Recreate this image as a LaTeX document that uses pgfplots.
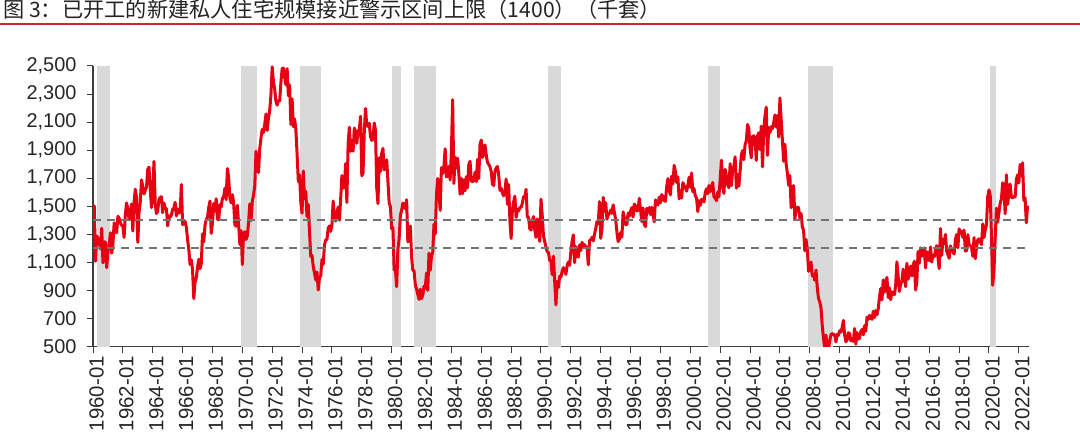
\documentclass[border=0pt]{standalone}
\usepackage{pgfplots}
\pgfplotsset{compat=1.18}
\usepackage{pgfplotstable}
\usepackage{fontspec}
\setmainfont{Liberation Sans}
\newfontfamily\cjk{Noto Sans CJK SC}
\definecolor{linered}{RGB}{230,0,18}
\definecolor{titlered}{RGB}{205,40,50}
\definecolor{bandgray}{RGB}{217,217,217}
\definecolor{dashgray}{RGB}{115,115,115}
\definecolor{axisgray}{RGB}{60,60,60}
\definecolor{titletext}{RGB}{35,35,35}
\pgfplotstableread[row sep=\\]{
v\\
1460\\1503\\1109\\1289\\1271\\1247\\1197\\1344\\1097\\1246\\1246\\1063\\
1183\\1226\\1312\\1166\\1228\\1382\\1335\\1312\\1429\\1415\\1385\\1365\\
1361\\1278\\1443\\1524\\1483\\1404\\1450\\1517\\1324\\1533\\1622\\1564\\
1244\\1456\\1534\\1689\\1641\\1588\\1614\\1639\\1763\\1779\\1622\\1491\\
1603\\1820\\1517\\1448\\1467\\1550\\1562\\1569\\1455\\1524\\1486\\1484\\
1361\\1433\\1423\\1438\\1478\\1488\\1529\\1432\\1482\\1452\\1460\\1656\\
1370\\1378\\1394\\1352\\1265\\1194\\1086\\1119\\1046\\843\\961\\990\\
1067\\1123\\1056\\1091\\1304\\1248\\1364\\1407\\1421\\1491\\1538\\1308\\
1380\\1520\\1466\\1554\\1408\\1405\\1512\\1495\\1556\\1569\\1630\\1548\\
1769\\1705\\1561\\1524\\1583\\1528\\1368\\1358\\1507\\1381\\1229\\1327\\
1085\\1305\\1319\\1264\\1290\\1385\\1517\\1399\\1534\\1580\\1647\\1893\\
1828\\1741\\1910\\1986\\2049\\2026\\2083\\2158\\2041\\2128\\2182\\2295\\
2494\\2390\\2334\\2249\\2221\\2254\\2252\\2382\\2481\\2485\\2421\\2366\\
2481\\2289\\2365\\2084\\2266\\2067\\2123\\2051\\1874\\1677\\1724\\1526\\
1451\\1752\\1555\\1607\\1426\\1513\\1316\\1142\\1150\\1070\\1026\\975\\
1032\\904\\993\\1005\\1121\\1087\\1226\\1260\\1264\\1344\\1360\\1321\\
1367\\1538\\1421\\1395\\1459\\1495\\1401\\1550\\1720\\1629\\1641\\1804\\
1527\\1943\\2063\\1892\\1971\\1893\\2058\\2020\\1949\\2042\\2042\\2142\\
1718\\1738\\2032\\2197\\2075\\2070\\2092\\1996\\1970\\1981\\2094\\2044\\
1630\\1520\\1847\\1748\\1876\\1913\\1760\\1778\\1832\\1681\\1524\\1498\\
1341\\1350\\1047\\1051\\927\\1196\\1269\\1436\\1471\\1523\\1510\\1482\\
1547\\1246\\1306\\1360\\1140\\1045\\1041\\940\\911\\873\\837\\910\\
843\\866\\931\\917\\1025\\902\\1166\\1046\\1144\\1173\\1372\\1303\\
1586\\1699\\1606\\1472\\1776\\1733\\1785\\1910\\1710\\1715\\1785\\1688\\
1897\\2260\\1663\\1851\\1774\\1843\\1732\\1586\\1698\\1590\\1689\\1612\\
1711\\1632\\1800\\1821\\1680\\1676\\1684\\1743\\1676\\1834\\1698\\1942\\
1972\\1848\\1876\\1938\\1867\\1814\\1799\\1783\\1747\\1657\\1648\\1753\\
1774\\1784\\1726\\1614\\1628\\1594\\1575\\1605\\1695\\1515\\1656\\1400\\
1271\\1473\\1532\\1573\\1421\\1478\\1467\\1493\\1492\\1522\\1569\\1563\\
1621\\1425\\1422\\1339\\1331\\1397\\1427\\1332\\1279\\1410\\1351\\1251\\
1551\\1437\\1289\\1248\\1212\\1177\\1171\\1115\\1110\\1014\\1145\\969\\
798\\965\\921\\1001\\996\\1036\\1063\\1049\\1015\\1079\\1103\\1079\\
1176\\1250\\1297\\1099\\1214\\1145\\1139\\1226\\1186\\1244\\1214\\1227\\
1210\\1210\\1083\\1258\\1260\\1280\\1254\\1300\\1343\\1392\\1376\\1533\\
1272\\1337\\1564\\1465\\1526\\1409\\1439\\1450\\1474\\1450\\1511\\1455\\
1407\\1316\\1249\\1267\\1314\\1281\\1461\\1416\\1369\\1369\\1452\\1431\\
1467\\1491\\1424\\1516\\1504\\1467\\1472\\1557\\1475\\1392\\1489\\1370\\
1355\\1486\\1457\\1492\\1442\\1494\\1437\\1390\\1546\\1520\\1510\\1566\\
1525\\1584\\1567\\1540\\1536\\1641\\1698\\1614\\1582\\1715\\1660\\1792\\
1748\\1670\\1710\\1553\\1611\\1559\\1669\\1648\\1635\\1608\\1648\\1708\\
1636\\1737\\1604\\1626\\1575\\1559\\1463\\1541\\1507\\1549\\1551\\1532\\
1600\\1625\\1590\\1649\\1605\\1636\\1670\\1567\\1562\\1540\\1602\\1568\\
1698\\1829\\1642\\1592\\1764\\1717\\1655\\1633\\1804\\1648\\1753\\1788\\
1853\\1629\\1726\\1643\\1751\\1867\\1897\\1833\\1939\\1967\\2083\\2057\\
1911\\1846\\1998\\2003\\1981\\1828\\2002\\2024\\1905\\2072\\1782\\2042\\
2144\\2207\\1864\\2061\\2025\\2068\\2054\\2095\\2151\\2065\\2147\\1994\\
2273\\2119\\1969\\1821\\1942\\1802\\1737\\1650\\1720\\1491\\1570\\1649\\
1409\\1480\\1495\\1490\\1415\\1448\\1354\\1330\\1183\\1264\\1197\\1037\\
1084\\1103\\1005\\1013\\973\\1046\\923\\844\\820\\777\\652\\560\\
490\\582\\505\\478\\540\\585\\594\\586\\585\\534\\588\\581\\
614\\604\\636\\687\\583\\536\\546\\599\\594\\543\\545\\539\\
630\\518\\600\\554\\561\\608\\623\\585\\650\\610\\711\\694\\
723\\704\\695\\753\\708\\757\\728\\770\\854\\915\\833\\976\\
888\\962\\994\\850\\919\\835\\891\\883\\870\\936\\1105\\1003\\
894\\949\\962\\1052\\1025\\927\\1095\\981\\1029\\1074\\1004\\1077\\
1109\\904\\958\\1178\\1095\\1205\\1145\\1157\\1204\\1061\\1177\\1156\\
1113\\1211\\1104\\1152\\1140\\1182\\1220\\1136\\1056\\1342\\1151\\1265\\
1236\\1300\\1182\\1156\\1130\\1219\\1185\\1178\\1160\\1264\\1299\\1205\\
1340\\1312\\1322\\1279\\1331\\1182\\1183\\1299\\1227\\1218\\1209\\1144\\
1278\\1127\\1208\\1262\\1268\\1246\\1227\\1375\\1278\\1333\\1371\\1570\\
1617\\1577\\1289\\938\\1046\\1278\\1487\\1388\\1456\\1524\\1552\\1668\\
1625\\1447\\1725\\1514\\1594\\1659\\1564\\1562\\1571\\1566\\1693\\1724\\
1666\\1798\\1716\\1810\\1542\\1561\\1383\\1505\\
}\houst
\begin{document}
\begin{tikzpicture}
\useasboundingbox (0,0) rectangle (1080bp,444bp);
\node[anchor=base west, inner sep=0pt, font=\cjk\fontsize{21.3}{21.3}\selectfont, text=titletext] at (3bp,426bp) {图 3：已开工的新建私人住宅规模接近警示区间上限（1400）（千套）};
\draw[titlered, line width=1.8bp] (0bp,420bp) -- (1080bp,420bp);
\begin{axis}[
  at={(93bp,97.3bp)}, anchor=south west,
  scale only axis, width=936bp, height=280.7bp,
  xmin=1960, xmax=2022.68, ymin=500, ymax=2500,
  ytick={500,700,...,2500},
  xtick={1960,1962,...,2022},
  xticklabels={1960-01,1962-01,1964-01,1966-01,1968-01,1970-01,1972-01,1974-01,1976-01,1978-01,1980-01,1982-01,1984-01,1986-01,1988-01,1990-01,1992-01,1994-01,1996-01,1998-01,2000-01,2002-01,2004-01,2006-01,2008-01,2010-01,2012-01,2014-01,2016-01,2018-01,2020-01,2022-01},
  x tick label style={rotate=90, anchor=east, font=\fontsize{20.5}{21}\selectfont, text=black!85, yshift=-3.5bp},
  y tick label style={font=\fontsize{20}{21}\selectfont, xshift=-7bp, text=black!85},
  axis x line*=bottom, axis y line*=left,
  tick align=outside, major tick length=6bp,
  tick style={draw=axisgray, line width=1pt},
  axis line style={draw=axisgray, line width=1.3pt},
  /pgf/number format/assume math mode=true,
  /pgf/number format/1000 sep={,},
  scaled y ticks=false,
]
\addplot[fill=bandgray, draw=none] coordinates {(1960.25,500)(1960.25,2500)(1961.17,2500)(1961.17,500)} -- cycle;
\addplot[fill=bandgray, draw=none] coordinates {(1969.9,500)(1969.9,2500)(1970.95,2500)(1970.95,500)} -- cycle;
\addplot[fill=bandgray, draw=none] coordinates {(1973.83,500)(1973.83,2500)(1975.28,2500)(1975.28,500)} -- cycle;
\addplot[fill=bandgray, draw=none] coordinates {(1980.0,500)(1980.0,2500)(1980.65,2500)(1980.65,500)} -- cycle;
\addplot[fill=bandgray, draw=none] coordinates {(1981.5,500)(1981.5,2500)(1982.97,2500)(1982.97,500)} -- cycle;
\addplot[fill=bandgray, draw=none] coordinates {(1990.5,500)(1990.5,2500)(1991.32,2500)(1991.32,500)} -- cycle;
\addplot[fill=bandgray, draw=none] coordinates {(2001.15,500)(2001.15,2500)(2001.97,2500)(2001.97,500)} -- cycle;
\addplot[fill=bandgray, draw=none] coordinates {(2007.88,500)(2007.88,2500)(2009.58,2500)(2009.58,500)} -- cycle;
\addplot[fill=bandgray, draw=none] coordinates {(2020.05,500)(2020.05,2500)(2020.45,2500)(2020.45,500)} -- cycle;
\addplot[linered, line width=3bp, line join=round, mark=none] table[x expr=1960+\coordindex/12, y=v] {\houst};
\addplot[dashgray, line width=2bp, dash pattern=on 8bp off 6bp, mark=none] coordinates {(1960,1400)(2022.68,1400)};
\addplot[dashgray, line width=2bp, dash pattern=on 8bp off 6bp, mark=none] coordinates {(1960,1200)(2022.68,1200)};
\end{axis}
\end{tikzpicture}
\end{document}
